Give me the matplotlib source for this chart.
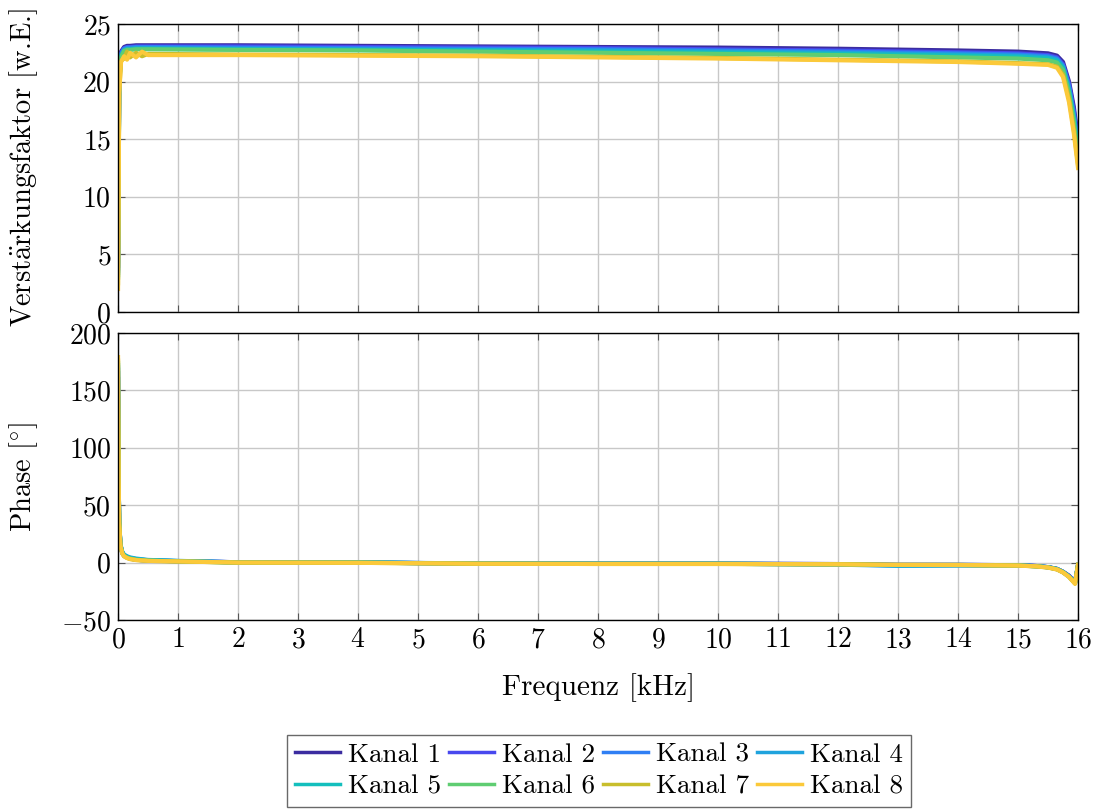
import numpy as np
import matplotlib
matplotlib.use("Agg")
import matplotlib.pyplot as plt

plt.rcParams['font.family'] = 'serif'
plt.rcParams['font.serif'] = ['cmr10', 'DejaVu Serif']
plt.rcParams['mathtext.fontset'] = 'cm'
plt.rcParams['axes.formatter.use_mathtext'] = True
plt.rcParams['font.size'] = 20

kanaele = ['Kanal 1', 'Kanal 2', 'Kanal 3', 'Kanal 4',
           'Kanal 5', 'Kanal 6', 'Kanal 7', 'Kanal 8']
farben = ['#3b2ca0', '#4848ee', '#2f7ff4', '#1fa3dd',
          '#14bfbd', '#5fcd72', '#c8be2c', '#fbc93a']

# gain, frequency in kHz
f_gain = [0, 0.02, 0.05, 0.1, 0.15, 0.2, 0.3, 0.4, 0.5, 2, 4, 6, 8, 10, 12,
          14, 15, 15.5, 15.65, 15.75, 15.85, 15.93, 16]
gain = [
    [4.0, 20.5, 22.6, 23.0, 23.1, 23.1, 23.15, 23.15, 23.15, 23.15, 23.1, 23.05, 23.0, 22.95, 22.85,
     22.7, 22.6, 22.45, 22.25, 21.7, 20.0, 17.8, 15.0],
    [3.8, 20.3, 22.5, 22.9, 23.0, 23.0, 23.05, 23.05, 23.05, 23.05, 23.0, 22.95, 22.9, 22.8, 22.7,
     22.55, 22.45, 22.3, 22.1, 21.5, 19.8, 17.5, 14.6],
    [3.6, 20.2, 22.4, 22.85, 22.95, 22.95, 23.0, 23.0, 23.0, 22.95, 22.9, 22.85, 22.8, 22.7, 22.6,
     22.45, 22.35, 22.2, 22.0, 21.4, 19.6, 17.2, 14.2],
    [3.4, 20.0, 22.3, 22.75, 22.85, 22.85, 22.9, 22.9, 22.9, 22.85, 22.8, 22.75, 22.7, 22.6, 22.5,
     22.35, 22.25, 22.1, 21.9, 21.3, 19.4, 17.0, 14.0],
    [3.2, 19.9, 22.2, 22.7, 22.8, 22.8, 22.85, 22.85, 22.85, 22.8, 22.75, 22.7, 22.6, 22.5, 22.4,
     22.25, 22.15, 22.0, 21.8, 21.2, 19.2, 16.8, 13.8],
    [3.0, 19.8, 22.1, 22.65, 22.75, 22.75, 22.8, 22.8, 22.8, 22.75, 22.7, 22.6, 22.5, 22.4, 22.3,
     22.1, 22.0, 21.85, 21.65, 21.0, 19.0, 16.5, 13.5],
    [2.5, 19.2, 21.8, 22.0, 22.6, 22.1, 22.5, 22.2, 22.4, 22.35, 22.3, 22.25, 22.15, 22.05, 21.9,
     21.75, 21.6, 21.5, 21.3, 20.6, 18.5, 15.8, 12.8],
    [2.0, 19.0, 21.7, 22.2, 21.9, 22.5, 22.1, 22.6, 22.3, 22.3, 22.25, 22.2, 22.1, 22.0, 21.85,
     21.7, 21.55, 21.45, 21.2, 20.4, 18.2, 15.5, 12.5],
]

# phase, frequency in kHz
f_phase = [0, 0.005, 0.01, 0.02, 0.04, 0.07, 0.1, 0.15, 0.2, 0.3, 0.5, 1, 2, 4, 6, 8, 10,
           12, 13, 14, 15, 15.3, 15.5, 15.65, 15.75, 15.85, 15.95, 16]
phase = [
    [160, 110, 68, 34, 15, 8.5, 6, 4.5, 3.5, 2.5, 1.8, 1.2, 0.3, 0, -0.8, -1, -1,
     -1.3, -2, -2, -2.3, -3, -4, -5.5, -8, -11.5, -17, -2.5],
    [165, 112, 69, 34, 15, 8.5, 6, 4.5, 3.5, 2.5, 1.8, 1.2, 0.3, 0, -0.8, -1, -1,
     -1.3, -2, -2, -2.3, -3, -4, -5.5, -8, -11.5, -17, -2.5],
    [168, 114, 70, 35, 15.5, 9, 6.5, 5, 4, 3, 2, 1.3, 0.2, 0, -0.9, -1, -1,
     -1.6, -2.5, -2.3, -2.5, -3.1, -4, -5.6, -8.2, -12, -17.5, -2.5],
    [170, 116, 72, 36, 16, 9.5, 7, 5.5, 4.5, 3.5, 2.3, 1.5, 0.2, 0.2, -0.8, -1, -1,
     -1.8, -2.8, -2.5, -2.5, -3.1, -4, -5.6, -8.2, -12, -17.5, -2],
    [172, 117, 72, 35, 15.5, 9, 6.5, 5, 4, 3, 2, 1.3, 0, 0, -0.9, -1.1, -1.1,
     -1.5, -2.3, -2.2, -2.5, -3.2, -4.1, -5.7, -8.3, -12.2, -18, -2],
    [174, 118, 71, 35, 15, 8.5, 6, 4.5, 3.5, 2.5, 1.7, 1.1, 0, 0, -1, -1.1, -1.1,
     -1.4, -2, -2, -2.5, -3.2, -4.1, -5.7, -8.3, -12.2, -18, -2],
    [176, 119, 70, 34, 14.5, 8, 5.5, 4, 3.2, 2.3, 1.5, 1, 0, -0.2, -1, -1.2, -1.2,
     -1.5, -2, -2.1, -2.6, -3.3, -4.3, -6, -8.6, -12.5, -18.3, -2],
    [179, 120, 70, 34, 14.5, 8, 5.5, 4, 3, 2.2, 1.5, 1, 0, -0.2, -1, -1.2, -1.2,
     -1.5, -2, -2.1, -2.6, -3.3, -4.3, -6, -8.6, -12.5, -18.5, -2],
]

fig = plt.figure(figsize=(10.96, 8.10), dpi=100)
ax1 = fig.add_axes([0.1077, 0.6148, 0.8759, 0.3556])
ax2 = fig.add_axes([0.1077, 0.2346, 0.8759, 0.3543])

for i in range(8):
    ax1.plot(f_gain, gain[i], color=farben[i], lw=3, label=kanaele[i])
    ax2.plot(f_phase, phase[i], color=farben[i], lw=3)

for ax in (ax1, ax2):
    ax.set_xlim(0, 16)
    ax.set_xticks(np.arange(0, 17, 1))
    ax.grid(True, color='#c8c8c8', lw=1)
    ax.set_axisbelow(True)
    ax.tick_params(direction='in', top=True, right=True, length=5, width=0.8,
                   color='#555555', labelsize=20, pad=5)
    for s in ax.spines.values():
        s.set_linewidth(1)

ax1.set_ylim(0, 25)
ax1.set_yticks([0, 5, 10, 15, 20, 25])
ax1.set_xticklabels([])
ax1.set_ylabel('Verst$\\ddot{\\mathrm{a}}$rkungsfaktor [w.E.]', fontsize=20.5)

ax2.set_ylim(-50, 200)
ax2.set_yticks([-50, 0, 50, 100, 150, 200])
ax2.set_ylabel('Phase [$^{\\circ}$]', fontsize=20.5)
ax2.set_xlabel('Frequenz [kHz]', fontsize=21, labelpad=14)

# both y labels on the same vertical line
ax1.yaxis.set_label_coords(-0.081, 0.5)
ax2.yaxis.set_label_coords(-0.081, 0.5)

# legend filled row by row: Kanal 1-4 on top, 5-8 below
handles, labels = ax1.get_legend_handles_labels()
order = [0, 4, 1, 5, 2, 6, 3, 7]
leg = fig.legend([handles[k] for k in order], [labels[k] for k in order],
                 loc='upper center', bbox_to_anchor=(0.5465, 0.093), ncol=4,
                 fontsize=19.5, frameon=True, fancybox=False, edgecolor='#444444',
                 handlelength=1.65, handletextpad=0.3, columnspacing=0.3,
                 labelspacing=0.3, borderpad=0.3, borderaxespad=0)
leg.get_frame().set_linewidth(1)
for ln in leg.get_lines():
    ln.set_linewidth(2.5)

fig.savefig('out.png', dpi=100)
